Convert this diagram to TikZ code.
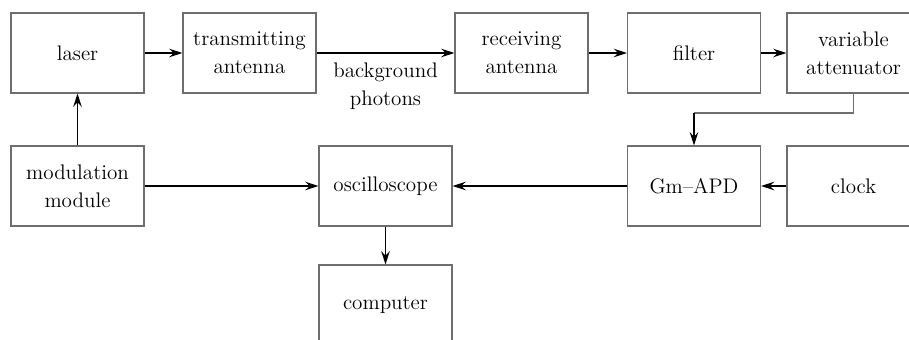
\documentclass[tikz,border=0pt]{standalone}
\usepackage{tikz}
\usetikzlibrary{arrows.meta}
\definecolor{boxgray}{HTML}{6E6E6E}

\begin{document}
\begin{tikzpicture}[x=0.02cm,y=-0.02cm,
  blk/.style={draw=boxgray,line width=.6pt,minimum width=2.66cm,minimum height=1.6cm,align=center,inner sep=0pt,font=\fontsize{12}{16}\selectfont},
  flow/.style={-{Stealth[length=7.5pt,width=4.8pt]},line width=.85pt}]
\useasboundingbox (0,0) rectangle (909,340);\clip (0,0) rectangle (909,340);
% upper row
\node[blk] (laser) at (77.5,53){laser};\node[blk] (tx) at (249.5,53){transmitting\\antenna};
\node[blk] (rx) at (521.5,53){receiving\\antenna};\node[blk] (filter) at (694,53){filter};
\node[blk] (atten) at (853.5,53){variable\\attenuator};
% lower row
\node[blk] (mod) at (77.5,186){modulation\\module};\node[blk] (osc) at (385.5,186){oscilloscope};
\node[blk] (apd) at (694,186){Gm--APD};\node[blk] (clock) at (853.5,186){clock};
\node[blk] (pc) at (385.5,305){computer};
\coordinate (turn) at (694,113);
\draw[flow] (laser)--(tx);\draw[flow] (tx)--(rx) node[midway,below=2pt,align=center,font=\fontsize{12}{16}\selectfont] (bg){background\\photons};
\draw[flow] (rx)--(filter);\draw[flow] (filter)--(atten);
\draw[boxgray,line width=.6pt] (atten.south)|-(turn);\draw[flow] (turn)--(apd.north);
\draw[flow] (mod)--(laser);\draw[flow] (mod)--(osc);
\draw[flow] (clock)--(apd);\draw[flow] (apd)--(osc);\draw[flow] (osc)--(pc);
\end{tikzpicture}
\end{document}
